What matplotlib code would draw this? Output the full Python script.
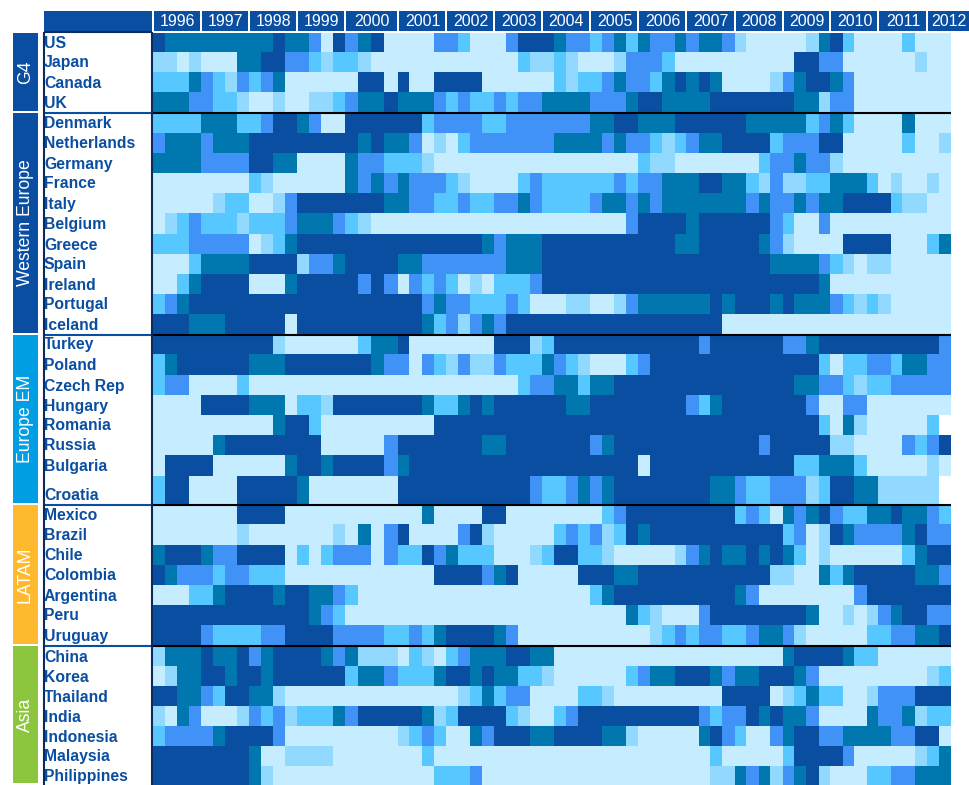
import numpy as np
import matplotlib
matplotlib.use('Agg')
import matplotlib.pyplot as plt
from matplotlib.colors import ListedColormap, BoundaryNorm
from matplotlib.patches import Rectangle

plt.rcParams['font.family'] = ['Liberation Sans', 'DejaVu Sans']

nan = float('nan')

years = [1996, 1997, 1998, 1999, 2000, 2001, 2002, 2003, 2004, 2005, 2006, 2007, 2008, 2009, 2010, 2011, 2012]

regions = ['G4', 'Western Europe', 'Europe EM', 'LATAM', 'Asia']
region_sizes = [4, 11, 8, 7, 7]
region_colors = ['#0A4EA2', '#0A4EA2', '#009FE3', '#FFB92E', '#8CC63F']

countries = ['US', 'Japan', 'Canada', 'UK',
             'Denmark', 'Netherlands', 'Germany', 'France', 'Italy', 'Belgium', 'Greece', 'Spain', 'Ireland', 'Portugal', 'Iceland',
             'Turkey', 'Poland', 'Czech Rep', 'Hungary', 'Romania', 'Russia', 'Bulgaria', 'Croatia',
             'Mexico', 'Brazil', 'Chile', 'Colombia', 'Argentina', 'Peru', 'Uruguay',
             'China', 'Korea', 'Thailand', 'India', 'Indonesia', 'Malaysia', 'Philippines']

# one value per quarter, 1996 Q1 to 2012 Q2, levels 0 (lightest) to 5 (darkest)
us = [5,4,4,4, 4,4,4,4, 4,4,5,4, 4,3,0,5, 3,4,5,0, 0,0,0,3, 3,2,0,0, 0,3,5,5, 5,4,3,3, 2,3,4,2, 4,3,3,4, 3,4,4,3, 1,0,0,0, 0,0,1,4, 5,2,0,0, 0,0,2,0, 0,0]
japan = [1,1,0,1, 0,0,0,4, 4,5,5,3, 3,2,1,2, 2,1,0,0, 0,0,0,0, 0,0,0,0, 0,0,2,1, 1,2,1,0, 0,0,1,3, 3,3,2,0, 0,0,0,0, 0,0,0,0, 0,5,5,3, 3,0,0,0, 0,0,0,1, 0,0]
canada = [2,2,2,4, 3,2,1,3, 2,3,4,0, 0,0,0,0, 0,5,5,0, 5,0,0,5, 5,5,5,0, 0,0,0,0, 0,2,1,2, 2,3,4,3, 3,2,4,5, 4,5,4,0, 0,0,0,1, 3,4,5,5, 4,3,0,0, 0,0,0,0, 0,0]
uk = [4,4,4,3, 3,2,2,1, 0,0,1,0, 0,1,1,2, 3,4,4,5, 4,4,4,3, 2,3,2,2, 3,2,3,3, 4,4,4,4, 3,3,3,4, 5,5,4,4, 4,4,5,5, 5,5,5,5, 5,4,4,1, 3,3,0,0, 0,0,0,0, 0,0]

denmark = [2,2,2,2, 4,4,4,2, 2,3,5,5, 4,3,0,0, 5,5,5,5, 5,5,2,3, 3,3,3,2, 2,3,3,3, 3,3,3,3, 4,4,5,5, 4,4,4,5, 5,5,5,5, 5,4,4,4, 4,4,2,3, 4,2,0,0, 0,0,4,0, 0,0]
netherlands = [3,4,4,4, 3,4,4,4, 5,5,5,5, 5,5,5,5, 5,4,5,4, 4,3,0,1, 0,2,3,3, 3,3,3,3, 3,4,4,4, 4,3,4,3, 3,2,1,2, 3,4,4,5, 5,5,5,2, 3,3,3,5, 5,0,0,0, 0,0,2,0, 0,1]
germany = [4,4,4,4, 3,3,3,3, 5,5,4,4, 0,0,0,0, 4,3,3,2, 2,2,1,0, 0,0,0,0, 0,0,0,0, 0,0,0,0, 0,0,0,0, 2,1,1,0, 0,0,0,0, 0,0,2,3, 3,4,3,3, 1,0,0,0, 0,0,0,0, 0,0]
france = [0,0,0,0, 0,0,0,0, 2,1,0,0, 0,0,0,0, 4,3,4,3, 4,3,3,3, 2,1,0,0, 0,0,2,3, 2,2,2,2, 2,2,3,2, 3,3,4,4, 4,5,5,4, 4,2,1,3, 1,1,2,2, 4,4,4,2, 0,1,0,0, 1,0]
italy = [0,0,0,0, 0,1,2,2, 0,0,1,3, 5,5,5,5, 5,5,5,4, 4,3,3,2, 2,3,2,2, 3,3,4,3, 2,2,2,2, 3,4,4,3, 4,3,4,4, 4,4,4,4, 4,3,4,3, 3,4,3,4, 4,5,5,5, 5,2,1,1, 0,0]
belgium = [0,1,2,3, 2,2,2,1, 2,2,2,3, 4,4,4,3, 2,1,0,0, 0,0,0,0, 0,0,0,0, 0,0,0,0, 0,0,0,0, 0,0,0,3, 5,5,5,5, 4,5,5,5, 5,5,5,3, 2,0,0,3, 0,0,0,0, 0,0,0,0, 0,0]
greece = [2,2,2,3, 3,3,3,3, 0,1,2,4, 5,5,5,5, 5,5,5,5, 5,5,5,5, 5,5,5,4, 3,4,4,4, 5,5,5,5, 5,5,5,5, 5,5,5,4, 4,5,5,5, 5,5,4,3, 1,0,0,0, 0,5,5,5, 5,0,0,0, 2,4]
spain = [0,0,0,2, 4,4,4,4, 5,5,5,5, 1,3,3,4, 5,5,5,5, 4,4,3,3, 3,3,3,3, 3,4,4,4, 5,5,5,5, 5,5,5,5, 5,5,5,5, 5,5,5,5, 5,5,5,4, 4,4,4,3, 2,1,0,1, 1,0,0,0, 0,0]
ireland = [0,0,2,4, 5,5,5,5, 0,0,0,4, 5,5,5,5, 5,3,5,3, 0,3,2,3, 2,0,1,0, 2,2,2,3, 5,5,5,5, 5,5,5,5, 5,5,5,5, 5,5,5,5, 5,5,5,5, 5,5,5,4, 0,0,0,0, 0,0,0,0, 0,0]
portugal = [2,3,4,5, 5,5,5,5, 5,5,5,5, 5,5,5,5, 5,5,5,5, 5,5,3,4, 3,3,2,2, 2,3,2,0, 0,0,1,1, 0,0,1,3, 4,4,4,4, 4,4,5,4, 5,5,5,4, 5,4,4,4, 3,2,1,2, 1,0,0,0, 0,0]
iceland = [5,5,5,4, 4,4,5,5, 5,5,5,0, 5,5,5,5, 5,5,5,5, 5,5,4,2, 3,1,3,4, 3,5,5,5, 5,5,5,5, 5,5,5,5, 5,5,5,5, 5,5,5,0, 0,0,0,0, 0,0,0,0, 0,0,0,0, 0,0,0,0, 0,0]

turkey = [5,5,5,5, 5,5,5,5, 5,5,1,0, 0,0,0,0, 0,2,4,4, 5,0,0,0, 0,0,0,0, 5,5,5,1, 2,5,5,5, 5,5,5,5, 5,5,5,5, 5,3,5,5, 5,5,5,5, 3,3,4,5, 5,5,5,5, 5,5,5,5, 5,3]
poland = [2,4,5,5, 5,5,5,5, 4,4,4,5, 5,5,5,5, 5,5,4,3, 3,0,3,2, 1,3,1,1, 3,2,2,2, 4,3,2,1, 0,0,0,2, 3,5,5,5, 5,5,5,5, 5,5,5,5, 5,5,5,2, 0,2,2,3, 3,2,4,4, 3,3]
czech = [2,3,3,0, 0,0,0,2, 0,0,0,0, 0,0,0,0, 0,0,0,0, 0,0,0,0, 0,0,0,0, 0,0,2,3, 3,4,4,2, 4,4,5,5, 5,5,5,5, 5,5,5,5, 5,5,5,5, 5,4,4,3, 3,2,1,2, 2,3,3,3, 3,3]
hungary = [0,0,0,0, 5,5,5,5, 4,4,4,0, 2,2,1,5, 5,5,5,5, 5,5,4,2, 2,4,5,4, 5,5,5,5, 5,5,4,4, 5,5,5,5, 5,5,5,5, 3,2,4,5, 5,5,5,5, 5,5,3,0, 0,3,3,0, 0,0,0,0, 0,0]
romania = [0,0,0,0, 0,0,0,0, 0,0,4,5, 5,2,0,0, 0,0,0,0, 0,0,0,5, 5,5,5,5, 5,5,5,5, 5,5,5,5, 5,5,5,5, 5,5,5,5, 5,5,5,5, 5,5,5,5, 5,5,5,2, 0,4,1,0, 0,0,0,0, 2,nan]
russia = [0,0,0,0, 0,4,5,5, 5,5,5,5, 5,5,0,0, 0,0,0,3, 5,5,5,5, 5,5,5,4, 4,5,5,5, 5,5,5,5, 3,4,5,5, 5,5,5,5, 5,5,5,5, 5,5,3,5, 5,5,5,5, 1,1,0,0, 0,0,3,2, 3,5]
bulgaria = [0,5,5,5, 5,0,0,0, 0,0,0,4, 5,5,4,5, 5,5,5,3, 4,5,5,5, 5,5,5,5, 5,5,5,5, 5,5,5,5, 5,5,5,5, 0,5,5,5, 5,5,5,5, 5,5,5,5, 5,2,2,4, 4,4,2,0, 0,0,0,0, 1,0]
croatia = [2,5,5,0, 0,0,0,5, 5,5,5,5, 4,0,0,0, 0,0,0,0, 5,5,5,5, 5,5,5,5, 5,5,5,3, 2,2,3,4, 3,4,5,5, 5,5,5,5, 5,5,4,4, 3,2,2,3, 3,3,1,2, 5,5,4,4, 1,1,1,1, 1,nan]

mexico = [0,0,0,0, 0,0,0,5, 5,5,5,0, 0,0,0,0, 0,0,0,0, 0,0,4,0, 0,0,0,5, 5,0,0,0, 0,0,0,0, 0,2,3,5, 5,5,5,5, 5,5,5,5, 2,3,2,0, 4,3,4,5, 3,2,2,4, 4,5,4,4, 3,2]
brazil = [0,0,0,0, 0,0,0,1, 0,0,0,0, 0,0,0,1, 0,4,0,3, 5,0,0,0, 0,3,5,1, 0,0,0,0, 0,2,3,2, 3,1,2,5, 4,5,5,5, 5,5,5,5, 5,5,5,5, 2,3,0,1, 5,4,3,3, 3,3,4,5, 3,3]
chile = [4,5,5,5, 4,3,3,5, 5,5,5,0, 2,0,2,3, 3,3,0,3, 2,2,5,3, 4,2,2,2, 0,0,0,1, 2,5,5,2, 2,1,0,0, 0,0,0,1, 3,4,5,4, 4,5,4,5, 4,2,0,1, 0,0,0,0, 0,0,2,4, 5,5]
colombia = [5,4,3,3, 3,2,3,3, 2,2,2,0, 0,0,0,0, 0,0,0,0, 0,0,0,5, 5,5,5,3, 4,5,0,0, 0,0,0,5, 5,5,4,4, 5,5,5,5, 5,5,5,5, 5,5,5,1, 1,0,0,4, 2,4,5,5, 5,5,5,4, 4,3]
argentina = [0,0,0,2, 2,4,5,5, 5,5,4,5, 5,4,4,3, 2,0,0,0, 0,0,0,0, 0,0,0,0, 0,0,0,0, 0,0,0,0, 2,4,5,5, 5,5,5,5, 5,5,5,5, 4,3,0,0, 0,0,0,0, 0,0,3,5, 5,5,5,5, 5,5]
peru = [5,5,5,5, 5,5,5,5, 5,5,5,5, 5,4,3,2, 0,0,0,0, 0,0,0,0, 0,0,0,0, 0,0,0,0, 0,0,0,0, 0,0,0,4, 2,1,0,0, 0,3,5,5, 5,5,5,5, 5,5,4,0, 0,1,0,1, 3,4,5,5, 3,3]
uruguay = [5,5,5,5, 3,2,2,2, 2,3,3,5, 5,5,5,3, 3,3,3,2, 2,3,2,4, 5,5,5,5, 4,3,0,0, 0,0,0,0, 0,0,0,0, 0,1,2,3, 2,3,3,2, 2,3,4,4, 3,1,0,0, 0,0,0,2, 2,3,3,4, 4,5]

china = [1,4,4,4, 5,4,4,5, 3,4,5,5, 5,5,4,3, 4,1,1,1, 0,2,1,0, 2,3,4,4, 4,5,5,4, 4,0,0,0, 0,0,0,0, 0,0,0,0, 0,0,0,0, 0,0,0,0, 4,5,5,5, 5,4,2,2, 0,0,0,0, 0,0]
korea = [0,1,4,4, 5,5,4,5, 5,4,5,5, 5,5,5,5, 2,4,4,3, 2,2,2,4, 5,5,4,5, 4,4,2,2, 1,0,0,0, 0,0,0,2, 3,4,4,5, 5,5,4,3, 4,4,5,5, 5,4,3,0, 0,0,0,0, 0,0,0,0, 1,2]
thailand = [5,5,4,4, 3,2,5,5, 4,4,1,0, 0,0,0,0, 0,0,0,0, 0,0,0,0, 0,1,2,4, 2,3,3,0, 0,0,0,2, 2,1,0,0, 0,0,0,0, 0,0,0,5, 5,5,5,0, 1,2,4,2, 2,0,0,1, 3,3,3,5, 5,5]
india = [1,0,4,3, 0,0,0,1, 3,2,3,1, 2,2,2,4, 3,5,5,5, 5,5,4,1, 2,5,5,5, 5,2,1,0, 0,2,3,5, 5,5,5,5, 5,5,5,5, 5,3,2,3, 3,5,4,5, 4,4,3,0, 0,0,0,4, 3,3,4,1, 2,2]
indonesia = [2,3,3,3, 3,4,5,5, 5,5,3,0, 0,0,0,0, 0,0,0,0, 1,2,3,2, 0,0,4,3, 5,5,5,4, 4,5,5,5, 5,4,4,1, 0,0,0,0, 0,4,5,3, 2,0,0,3, 4,5,5,3, 3,4,4,4, 4,3,3,5, 5,0]
malaysia = [5,5,5,5, 5,5,5,5, 4,0,0,1, 1,1,1,0, 0,0,0,0, 0,0,2,0, 0,0,0,0, 0,0,0,0, 0,0,0,0, 0,0,0,0, 0,0,0,0, 0,0,2,0, 0,0,0,0, 2,5,5,5, 5,3,0,0, 0,0,0,1, 2,4]
philippines = [5,5,5,5, 5,5,5,5, 4,1,0,0, 0,0,0,0, 0,0,0,0, 0,0,0,2, 2,2,3,0, 0,0,0,0, 0,0,0,0, 0,0,0,0, 0,0,0,0, 0,0,1,1, 4,3,4,1, 3,4,5,1, 0,0,0,2, 2,3,3,4, 4,4]

level_colors = ['#C6ECFF', '#91D9FF', '#57C8FF', '#4192F6', '#0077AE', '#0A4EA2']

values = np.array([us, japan, canada, uk,
                   denmark, netherlands, germany, france, italy, belgium, greece, spain, ireland, portugal, iceland,
                   turkey, poland, czech, hungary, romania, russia, bulgaria, croatia,
                   mexico, brazil, chile, colombia, argentina, peru, uruguay,
                   china, korea, thailand, india, indonesia, malaysia, philippines], dtype=float)

# table grid in pixels, the columns and rows are not quite even in the original
col_edges = [153, 165, 177, 189, 201, 213, 225, 237, 249, 261, 273, 285, 297, 309, 321, 333, 345,
             358, 371, 384, 398, 409, 422, 434, 446, 458, 470, 482, 494, 506, 518, 530, 542, 554,
             566, 578, 590, 602, 614, 626, 638, 650, 662, 675, 686, 699, 710, 722, 735, 746, 759,
             770, 783, 794, 806, 819, 830, 843, 854, 867, 878, 891, 902, 915, 927, 939, 951]
row_edges = [33, 52, 72, 92, 113, 133, 153, 173, 193, 213, 234, 254, 274, 294, 314, 335, 354, 375,
             395, 415, 435, 455, 476, 505, 524, 545, 565, 585, 605, 625, 646, 666, 686, 706, 726,
             746, 766, 785]

blue = '#0A4EA2'
navy = '#0B2A5E'

fig = plt.figure(figsize=(9.69, 7.85), dpi=100)
ax = fig.add_axes([0, 0, 1, 1])
ax.set_xlim(0, 969)
ax.set_ylim(785, 0)
ax.axis('off')

cmap = ListedColormap(level_colors)
cmap.set_bad('white')
norm = BoundaryNorm(np.arange(-0.5, 6.5), cmap.N)
ax.pcolormesh(col_edges, row_edges, np.ma.masked_invalid(values), cmap=cmap, norm=norm,
              linewidth=0, antialiased=False, rasterized=True)

# header
ax.add_patch(Rectangle((44, 11), 108, 20, color=blue, lw=0))
for i, yr in enumerate(years):
    left = col_edges[4 * i] + 1
    right = col_edges[4 * (i + 1)] - 1 if i < len(years) - 1 else 969
    ax.add_patch(Rectangle((left, 11), right - left, 20, color=blue, lw=0))
    ax.text((left + right) / 2 + 0.5, 26.5, str(yr), color='white', fontsize=11.5, ha='center', va='baseline')

# country names
for i, name in enumerate(countries):
    ax.text(44, row_edges[i + 1] - 4.5, name, color=blue, fontsize=11.3, fontweight='bold', ha='left', va='baseline')

# region blocks and separators
start = 0
for name, size, col in zip(regions, region_sizes, region_colors):
    top = row_edges[start]
    bottom = row_edges[start + size]
    ax.add_patch(Rectangle((13, top), 25, bottom - top - 2, color=col, lw=0))
    ax.text(25.5, (top + bottom - 2) / 2, name, color='white', fontsize=12.7, rotation=90, ha='center', va='center')
    start += size
    if start < len(countries):
        ax.plot([44, 153], [bottom, bottom], color=blue, lw=1.5, solid_capstyle='butt')
        ax.plot([153, 951], [bottom, bottom], color='black', lw=1.5, solid_capstyle='butt')

ax.plot([44, 44], [32, 785], color=navy, lw=1.5, solid_capstyle='butt')
ax.plot([152, 152], [32, 785], color=navy, lw=1.5, solid_capstyle='butt')
ax.plot([44, 152], [32, 32], color=navy, lw=1.5, solid_capstyle='butt')

fig.savefig('out.png', dpi=100)
